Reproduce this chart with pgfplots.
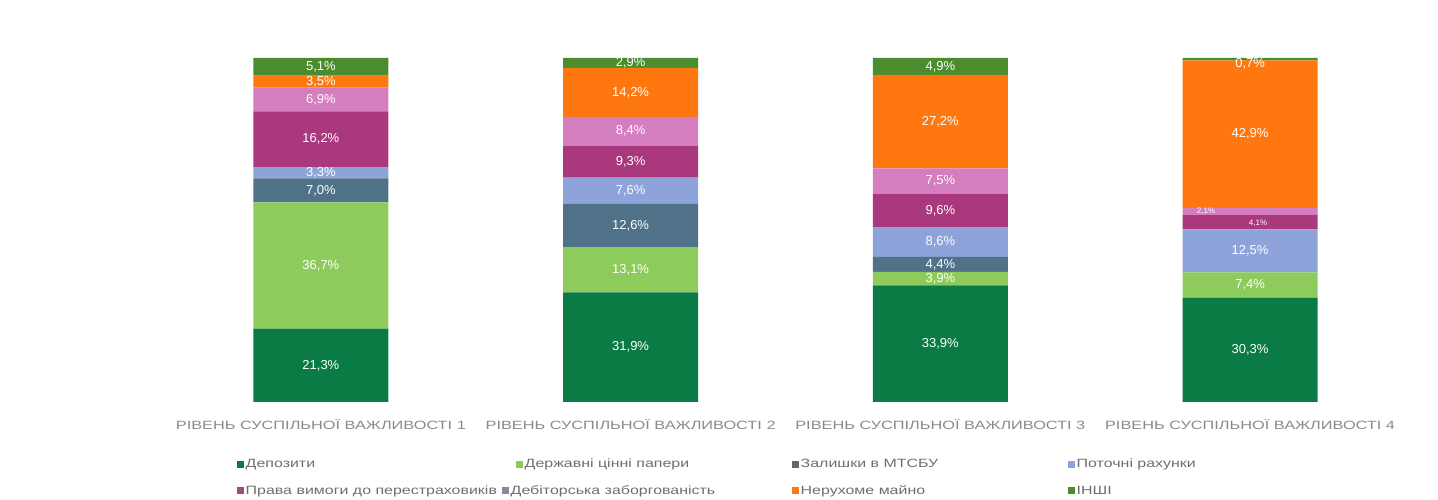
\documentclass[border=0pt]{standalone}
\usepackage{pgfplots}
\pgfplotsset{compat=1.18}
\usepackage{fontspec}
\setmainfont{Liberation Sans}
\newfontfamily\widefont{Liberation Sans}[FakeStretch=1.36]
\newfontfamily\legfont{Liberation Sans}[FakeStretch=1.33]
\definecolor{cDep}{HTML}{0B7B45}
\definecolor{cDer}{HTML}{8DCB5C}
\definecolor{cMts}{HTML}{4F7289}
\definecolor{cPot}{HTML}{8EA3DA}
\definecolor{cPra}{HTML}{A9397C}
\definecolor{cDeb}{HTML}{D47DBF}
\definecolor{cNer}{HTML}{FF780F}
\definecolor{cIns}{HTML}{4B8D2E}
\definecolor{cLab}{HTML}{8A8A8A}
\definecolor{cLeg}{HTML}{6E6E6E}
\begin{document}
\begin{tikzpicture}
\useasboundingbox (0,0) rectangle (1438pt,500pt);
\pgfplotsset{
  base/.style={
    at={(166pt,98pt)}, anchor=south west,
    scale only axis, width=1239pt, height=344pt,
    xmin=-0.5, xmax=3.5, ymin=0, ymax=100,
    axis line style={draw=none}, ytick=\empty,
  }
}
\begin{axis}[base,
  ybar stacked, bar width=135pt,
  xtick={0,1,2,3}, major tick length=0pt,
  xticklabels={РІВЕНЬ СУСПІЛЬНОЇ ВАЖЛИВОСТІ 1,РІВЕНЬ СУСПІЛЬНОЇ ВАЖЛИВОСТІ 2,РІВЕНЬ СУСПІЛЬНОЇ ВАЖЛИВОСТІ 3,РІВЕНЬ СУСПІЛЬНОЇ ВАЖЛИВОСТІ 4},
  xticklabel style={font=\widefont\fontsize{12}{14}\selectfont, text=cLab, yshift=-14pt},
  legend style={draw=none, fill=none, legend columns=4,
    at={(axis description cs:0.0549,-0.16)}, anchor=north west,
    row sep=16pt, font=\legfont\fontsize{12}{14}\selectfont, text=cLeg,
    cells={anchor=west}, nodes={inner xsep=1.5pt, inner ysep=0pt}},
  legend cell align=left,
  legend image code/.code={\fill[#1] (0pt,-3.5pt) rectangle (7pt,3.5pt);},
]
\addplot[fill=cDep, draw=none] coordinates {(0,21.3) (1,31.9) (2,33.9) (3,30.3)};
\addlegendentry{\makebox[269pt][l]{Депозити}}
\addplot[fill=cDer, draw=none] coordinates {(0,36.7) (1,13.1) (2,3.9) (3,7.4)};
\addlegendentry{\makebox[266pt][l]{Державні цінні папери}}
\addplot[fill=cMts, draw=none, legend image code/.code={\fill[gray!80!black] (0pt,-3.5pt) rectangle (7pt,3.5pt);}] coordinates {(0,7.0) (1,12.6) (2,4.4) (3,0)};
\addlegendentry{\makebox[266pt][l]{Залишки в МТСБУ}}
\addplot[fill=cPot, draw=none] coordinates {(0,3.3) (1,7.6) (2,8.6) (3,12.5)};
\addlegendentry{\makebox[266pt][l]{Поточні рахунки}}
\addplot[fill=cPra, draw=none, legend image code/.code={\fill[cPra!75!gray] (0pt,-3.5pt) rectangle (7pt,3.5pt);}] coordinates {(0,16.2) (1,9.3) (2,9.6) (3,4.1)};
\addlegendentry{\makebox[250pt][l]{Права вимоги до перестраховиків}}
\addplot[fill=cDeb, draw=none, legend image code/.code={\fill[overlay, gray!70!cPot] (-14pt,-3.5pt) rectangle (-7pt,3.5pt);}] coordinates {(0,6.9) (1,8.4) (2,7.5) (3,2.1)};
\addlegendentry{\hspace*{-14pt}\makebox[266pt][l]{Дебіторська заборгованість}}
\addplot[fill=cNer, draw=none] coordinates {(0,3.5) (1,14.2) (2,27.2) (3,42.9)};
\addlegendentry{\makebox[266pt][l]{Нерухоме майно}}
\addplot[fill=cIns, draw=none] coordinates {(0,5.1) (1,2.9) (2,4.9) (3,0.7)};
\addlegendentry{\makebox[266pt][l]{ІНШІ}}
\end{axis}
\begin{axis}[base, xtick=\empty]
\addplot[only marks, mark=none, nodes near coords, point meta=explicit symbolic,
  nodes near coords style={anchor=center, text=white, font=\fontsize{13}{15}\selectfont}]
coordinates {
(0,10.65) [21,3\%] (0,39.65) [36,7\%] (0,61.5) [7,0\%] (0,66.65) [3,3\%]
(0,76.4) [16,2\%] (0,87.95) [6,9\%] (0,93.15) [3,5\%] (0,97.45) [5,1\%]
(1,15.95) [31,9\%] (1,38.45) [13,1\%] (1,51.3) [12,6\%] (1,61.4) [7,6\%]
(1,69.85) [9,3\%] (1,78.7) [8,4\%] (1,90.0) [14,2\%] (1,98.55) [2,9\%]
(2,16.95) [33,9\%] (2,35.85) [3,9\%] (2,40.0) [4,4\%] (2,46.5) [8,6\%]
(2,55.6) [9,6\%] (2,64.15) [7,5\%] (2,81.5) [27,2\%] (2,97.55) [4,9\%]
(3,15.15) [30,3\%] (3,34.0) [7,4\%] (3,43.95) [12,5\%]
(3,77.85) [42,9\%] (3,98.4) [0,7\%]
};
\addplot[only marks, mark=none, nodes near coords, point meta=explicit symbolic,
  nodes near coords style={anchor=center, text=white, font=\fontsize{8}{9}\selectfont, xshift=-44pt}]
coordinates {(3,55.6) [2,1\%]};
\addplot[only marks, mark=none, nodes near coords, point meta=explicit symbolic,
  nodes near coords style={anchor=center, text=white, font=\fontsize{8}{9}\selectfont, xshift=8pt}]
coordinates {(3,52.0) [4,1\%]};
\end{axis}
\end{tikzpicture}
\end{document}
